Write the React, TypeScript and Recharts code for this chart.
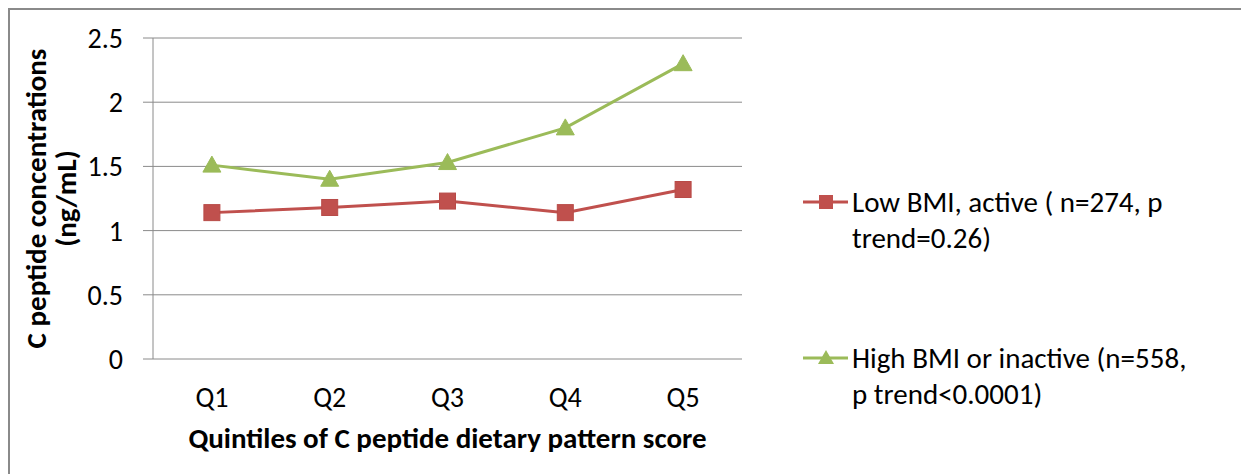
import React from 'react';
import { LineChart, Line, XAxis, YAxis, CartesianGrid, Legend } from 'recharts';

const quintiles = ['Q1', 'Q2', 'Q3', 'Q4', 'Q5'];
const lowBmiActive = [1.14, 1.18, 1.23, 1.14, 1.32];
const highBmiInactive = [1.51, 1.4, 1.53, 1.8, 2.3];
const yTicks = [0, 0.5, 1, 1.5, 2, 2.5];
const lowLegend = ['Low BMI, active ( n=274, p', 'trend=0.26)'];
const highLegend = ['High BMI or inactive (n=558,', 'p trend<0.0001)'];

const RED = '#C0504D';
const GREEN = '#9BBB59';
const GRID = '#8a8a8a';
const FONT = 'Carlito, Calibri, Lato, sans-serif';

const data = quintiles.map((q, i) => ({
  pos: i + 1,
  q,
  low: lowBmiActive[i],
  high: highBmiInactive[i],
}));
const labelTicks = quintiles.map((_, i) => i + 1);
const boundaryTicks = [0.5, ...quintiles.map((_, i) => i + 1.5)];

const square = (props: any) => {
  const { cx, cy, index } = props;
  return <rect key={`sq-${index}`} x={cx - 8} y={cy - 8} width={16} height={16} fill={RED} stroke="#b84a47" strokeWidth={1} />;
};

const triangle = (props: any) => {
  const { cx, cy, index } = props;
  return (
    <path
      key={`tr-${index}`}
      d={`M${cx},${cy - 9} L${cx + 9},${cy + 7} L${cx - 9},${cy + 7} Z`}
      fill={GREEN}
      stroke={GREEN}
      strokeWidth={1}
    />
  );
};

const YTitle = (props: any) => {
  const vb = props.viewBox || { y: 0, height: 0 };
  const cy = vb.y + vb.height / 2;
  return (
    <g fontFamily={FONT} fontWeight="bold" fontSize={29} fill="#000">
      <text x={26} y={cy} transform={`rotate(-90, 26, ${cy})`} textAnchor="middle" dominantBaseline="central">
        C peptide concentrations
      </text>
      <text x={56} y={cy} transform={`rotate(-90, 56, ${cy})`} textAnchor="middle" dominantBaseline="central">
        (ng/mL)
      </text>
    </g>
  );
};

const LegendIcon = ({ kind }: { kind: 'square' | 'triangle' }) => (
  <svg width={45} height={36} style={{ flex: 'none', marginRight: 4 }}>
    <line x1={0} y1={18} x2={45} y2={18} stroke={kind === 'square' ? RED : GREEN} strokeWidth={3} />
    {kind === 'square' ? (
      <rect x={16} y={11} width={14} height={14} fill={RED} />
    ) : (
      <path d="M23,10 L31,24 L15,24 Z" fill={GREEN} />
    )}
  </svg>
);

const renderLegend = () => {
  const items = [
    { kind: 'square' as const, lines: lowLegend },
    { kind: 'triangle' as const, lines: highLegend },
  ];
  return (
    <div style={{ fontFamily: FONT, fontSize: 29, lineHeight: '36px', color: '#000' }}>
      {items.map((it, i) => (
        <div key={i} style={{ display: 'flex', alignItems: 'flex-start', marginBottom: i === 0 ? 84 : 0 }}>
          <LegendIcon kind={it.kind} />
          <div style={{ whiteSpace: 'nowrap' }}>
            {it.lines.map((l, j) => (
              <div key={j}>{l}</div>
            ))}
          </div>
        </div>
      ))}
    </div>
  );
};

export default function App() {
  return (
    <div style={{ borderTop: `2px solid ${GRID}`, borderLeft: `2px solid ${GRID}`, width: 1239, height: 464 }}>
      <LineChart width={1239} height={464} data={data} margin={{ top: 28, right: 507, bottom: 15, left: 0 }}>
        <CartesianGrid horizontal vertical={false} stroke={GRID} xAxisId="bounds" />
        <XAxis
          xAxisId="bounds"
          type="number"
          dataKey="pos"
          domain={[0.5, 5.5]}
          ticks={boundaryTicks}
          tick={false}
          tickSize={7}
          height={0}
          stroke={GRID}
          tickLine={{ stroke: GRID }}
          axisLine={{ stroke: GRID }}
        />
        <XAxis
          xAxisId="q"
          type="number"
          dataKey="pos"
          domain={[0.5, 5.5]}
          ticks={labelTicks}
          tickFormatter={(v: number) => quintiles[v - 1]}
          tickLine={false}
          axisLine={false}
          tickSize={0}
          tickMargin={28}
          height={100}
          tick={{ fill: '#000', fontSize: 28, fontFamily: FONT }}
          label={{
            value: 'Quintiles of C peptide dietary pattern score',
            position: 'insideBottom',
            offset: 11,
            fill: '#000',
            fontSize: 29,
            fontWeight: 'bold',
            fontFamily: FONT,
          }}
        />
        <YAxis
          domain={[0, 2.5]}
          ticks={yTicks}
          width={143}
          tickSize={10}
          tickMargin={20}
          stroke={GRID}
          tick={{ fill: '#000', fontSize: 28, fontFamily: FONT }}
          tickFormatter={(v: number) => String(v)}
          label={{ content: <YTitle /> }}
        />
        <Line
          xAxisId="q"
          dataKey="low"
          name="Low BMI, active ( n=274, p trend=0.26)"
          stroke={RED}
          strokeWidth={3}
          dot={square}
          isAnimationActive={false}
        />
        <Line
          xAxisId="q"
          dataKey="high"
          name="High BMI or inactive (n=558, p trend<0.0001)"
          stroke={GREEN}
          strokeWidth={3}
          dot={triangle}
          isAnimationActive={false}
        />
        <Legend
          layout="vertical"
          align="center"
          verticalAlign="middle"
          content={renderLegend}
          wrapperStyle={{ left: 793, top: 174, width: 440 }}
        />
      </LineChart>
    </div>
  );
}
